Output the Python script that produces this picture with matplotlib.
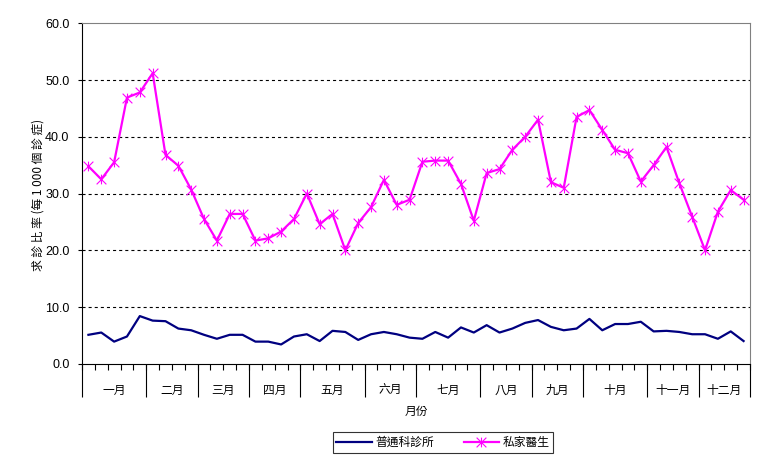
import matplotlib
matplotlib.use("Agg")
import matplotlib.pyplot as plt
import matplotlib.transforms as mtransforms
from matplotlib.path import Path
import numpy as np

plt.rcParams['font.family'] = ['Liberation Sans', 'Noto Sans CJK TC', 'DejaVu Sans']
plt.rcParams['lines.scale_dashes'] = False

months = ["一月", "二月", "三月", "四月", "五月", "六月", "七月", "八月", "九月", "十月", "十一月", "十二月"]
weeks_per_month = [5, 4, 4, 4, 5, 4, 5, 4, 4, 5, 4, 4]

gp_clinics = [5.1, 5.5, 3.9, 4.8, 8.4, 7.6, 7.5, 6.2, 5.9, 5.1, 4.4, 5.1, 5.1,
              3.9, 3.9, 3.4, 4.8, 5.2, 4.0, 5.8, 5.6, 4.2, 5.2, 5.6, 5.2, 4.6,
              4.4, 5.6, 4.6, 6.4, 5.5, 6.8, 5.5, 6.2, 7.2, 7.7, 6.5, 5.9, 6.2,
              7.9, 5.9, 7.0, 7.0, 7.4, 5.7, 5.8, 5.6, 5.2, 5.2, 4.4, 5.7, 4.0]
private_doctors = [34.8, 32.5, 35.5, 46.9, 47.8, 51.2, 36.8, 34.9, 30.7, 25.5, 21.7,
                   26.4, 26.4, 21.7, 22.1, 23.3, 25.5, 30.0, 24.6, 26.4, 20.0, 24.8,
                   27.6, 32.4, 28.0, 28.9, 35.6, 35.8, 35.8, 31.7, 25.2, 33.6, 34.3,
                   37.7, 40.0, 43.0, 32.0, 31.0, 43.5, 44.7, 41.2, 37.7, 37.1, 32.1,
                   35.0, 38.2, 31.8, 25.9, 20.0, 26.8, 30.6, 28.9]

series_names = ["普通科診所", "私家醫生"]
y_label = "求 診 比 率 (每 1 000 個 診 症)"
x_label = "月份"

n = len(gp_clinics)
x = np.arange(n) + 0.5

# Excel-like star marker: an "x" with a vertical bar
star = Path([(0, -1), (0, 1), (-1, -1), (1, 1), (-1, 1), (1, -1)],
            [Path.MOVETO, Path.LINETO, Path.MOVETO, Path.LINETO, Path.MOVETO, Path.LINETO])

fig = plt.figure(figsize=(7.65, 4.65), dpi=100)
ax = fig.add_axes([82/765, 1-363.75/465, (750-82)/765, (363.75-23.25)/465])

ax.plot(x, gp_clinics, color='#000080', lw=1.6, label=series_names[0], zorder=3)
ax.plot(x, private_doctors, color='#FF00FF', lw=1.6, marker=star, ms=7,
        mew=0.8, label=series_names[1], zorder=3)

ax.set_xlim(0, n)
ax.set_ylim(0, 60)

# grid
ax.set_yticks(np.arange(0, 61, 10))
ax.set_yticklabels([f"{v:.1f}" for v in np.arange(0, 61, 10)], fontsize=9)
for v in range(10, 60, 10):
    ax.axhline(v, color='black', lw=0.8, dashes=(2.2, 2.2), zorder=1)
ax.tick_params(axis='y', direction='out', length=3, width=0.8, pad=6)

# spines
for s in ['top', 'right']:
    ax.spines[s].set_color('#808080')
    ax.spines[s].set_linewidth(0.8)
for s in ['left', 'bottom']:
    ax.spines[s].set_color('black')
    ax.spines[s].set_linewidth(0.8)

# category ticks
ax.set_xticks(np.arange(0, n + 1))
ax.set_xticklabels([])
ax.tick_params(axis='x', which='major', direction='out', length=4.5, width=0.8)

# month separators
bounds = np.concatenate([[0], np.cumsum(weeks_per_month)])
sec = ax.secondary_xaxis('bottom')
sec.set_xticks(bounds)
sec.set_xticklabels([])
sec.tick_params(length=24, width=0.8, direction='out')
sec.spines['bottom'].set_visible(False)

# month labels
centers = (bounds[:-1] + bounds[1:]) / 2
trans = mtransforms.blended_transform_factory(ax.transData, fig.transFigure)
for c, m in zip(centers, months):
    ax.text(c, 1 - 390/465, m, transform=trans, ha='center', va='center',
            fontsize=8.5, family=['Noto Sans CJK TC'])

fig.text(ax.get_position().x0 + ax.get_position().width / 2, 1 - 411/465, x_label,
         ha='center', va='center', fontsize=8.5, family=['Noto Sans CJK TC'])
fig.text(38/765, 1 - 195/465, y_label, rotation=90, ha='center', va='center',
         fontsize=8.5, family=['Noto Sans CJK TC', 'Liberation Sans'])

leg = ax.legend(loc='center', bbox_to_anchor=(443/765, 1-442.5/465), bbox_transform=fig.transFigure,
                ncol=2, frameon=True, fancybox=False, edgecolor='black',
                prop={'family': ['Noto Sans CJK TC'], 'size': 8.5},
                handlelength=3.0, columnspacing=2.5, borderpad=0.3, handletextpad=0.3)
leg.get_frame().set_linewidth(0.8)

fig.savefig("out.png", dpi=100)
